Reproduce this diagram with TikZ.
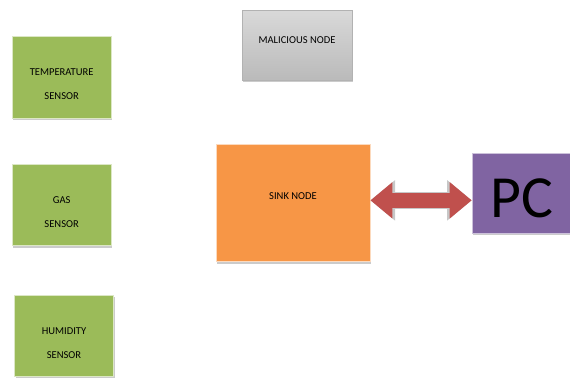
\documentclass[tikz,border=0pt]{standalone}
\usepackage{fontspec}
\setmainfont{Carlito}
\usepackage{xcolor}
\usepackage{tikz}
\usetikzlibrary{arrows.meta, positioning, calc, shadows}
\definecolor{sensgreen}{HTML}{9BBB59}
\definecolor{sinkorange}{HTML}{F79646}
\definecolor{pcpurple}{HTML}{8064A2}
\definecolor{linkred}{HTML}{C0504D}
\newcommand{\sensorlabel}[1]{\rule{0pt}{17.5pt}#1\\[10.5pt]SENSOR}

\begin{document}
\begin{tikzpicture}[
	font=\fontsize{9}{10}\selectfont,
	shade/.style={drop shadow={shadow xshift=1pt, shadow yshift=-1.5pt,
			fill=black!45, opacity=0.45}},
	sensor/.style={draw=sensgreen!35, thick, fill=sensgreen, shade,
		align=center, inner sep=0pt,
		minimum width=2.97cm, minimum height=2.45cm},
	malbox/.style={draw=black!30, thick, top color=black!15, bottom color=black!27,
		shade, align=center, inner sep=0pt,
		minimum width=3.3cm, minimum height=2.1cm},
	sinkbox/.style={draw=sinkorange!35, thick, fill=sinkorange, shade,
		align=center, inner sep=0pt,
		minimum width=4.62cm, minimum height=3.51cm},
	pcbox/.style={draw=pcpurple!40, thick, fill=pcpurple, shade,
		inner sep=0pt, font=\fontsize{51}{51}\selectfont,
		minimum width=2.97cm, minimum height=2.4cm}
	]
	\useasboundingbox (0,0) rectangle (17.1,-11.31);
	
	%--- sensors ---------------------------------------------------------------
	\node[sensor] (temp) at (1.85,-2.33) {\sensorlabel{TEMPERATURE}};
	\node[sensor] (gas)  at (1.85,-6.15) {\sensorlabel{GAS}};
	\node[sensor] (hum)  at (1.92,-10.08) {\sensorlabel{HUMIDITY}};
	
	%--- malicious node and sink -----------------------------------------------
	\node[malbox] (mal) at (8.91,-1.35) {\rule[-9pt]{0pt}{9pt}MALICIOUS NODE};
	\node[sinkbox] (sink) at (8.79,-6.1) {\rule[-12pt]{0pt}{12pt}SINK NODE};
	
	%--- pc --------------------------------------------------------------------
	\node[pcbox] (pc) at (15.65,-5.79) {\rule{0pt}{42pt}PC};
	
	%--- two-way link ----------------------------------------------------------
	\draw[black!22, line width=0.53cm, {Triangle[length=0.74cm, width=1.17cm]}-{Triangle[length=0.74cm, width=1.17cm]}]
	([yshift=0.09cm]sink.east) -- ([yshift=0.09cm]sink.east -| pc.west);
	\draw[linkred, line width=0.45cm, {Triangle[length=0.66cm, width=1.05cm]}-{Triangle[length=0.66cm, width=1.05cm]}]
	([yshift=0.09cm]sink.east) -- ([yshift=0.09cm]sink.east -| pc.west);
\end{tikzpicture}
\end{document}
